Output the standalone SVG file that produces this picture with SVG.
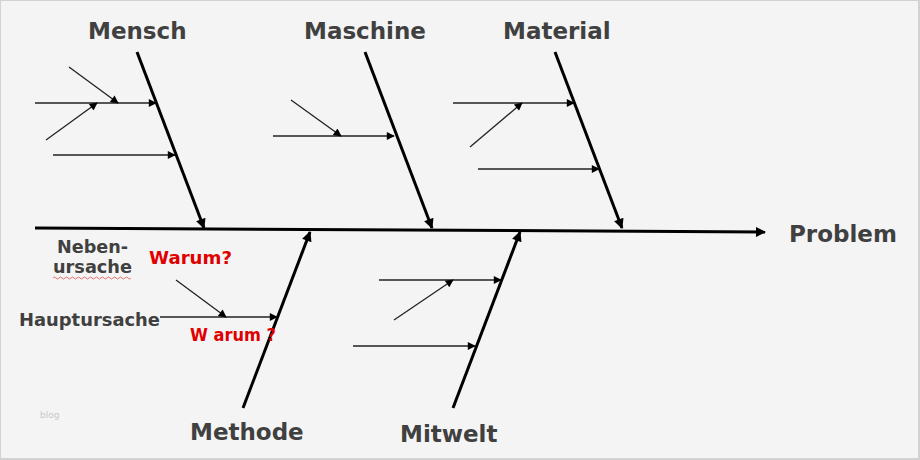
<svg xmlns="http://www.w3.org/2000/svg" width="920" height="460" viewBox="0 0 920 460">
<style>
.bg{fill:#f4f4f4;stroke:#d2d2d2;stroke-width:2}
.t{font-family:"DejaVu Sans",Verdana,sans-serif;font-weight:bold;fill:#404040}
.cat{font-size:23px}
.sm{font-size:18px}
.red{font-family:"DejaVu Sans",Verdana,sans-serif;font-weight:bold;fill:#e00000;font-size:17px}
.bone{stroke:#000;stroke-width:3;fill:none;marker-end:url(#big)}
.spine{stroke:#000;stroke-width:3;fill:none;marker-end:url(#big)}
.sub{stroke:#222;stroke-width:1.3;fill:none;marker-end:url(#small)}
</style>
<defs>
<marker id="big" viewBox="0 0 10 10" refX="9" refY="5" markerWidth="12" markerHeight="10" markerUnits="userSpaceOnUse" orient="auto">
<path d="M0,0 L10,5 L0,10 z" fill="#000"/>
</marker>
<marker id="small" viewBox="0 0 10 10" refX="9" refY="5" markerWidth="10" markerHeight="8" markerUnits="userSpaceOnUse" orient="auto">
<path d="M0,0 L10,5 L0,10 z" fill="#000"/>
</marker>
</defs>
<rect class="bg" x="0" y="0" width="919" height="459"/>
<g id="connectors">
<line class="spine" x1="35" y1="228" x2="765" y2="232"/>
<line class="bone" x1="137" y1="52" x2="204" y2="228"/>
<line class="bone" x1="365" y1="52" x2="432" y2="228"/>
<line class="bone" x1="555" y1="52" x2="622" y2="228"/>
<line class="bone" x1="243" y1="408" x2="310" y2="232"/>
<line class="bone" x1="453" y1="408" x2="520" y2="232"/>
<line class="sub" x1="35" y1="103" x2="156" y2="103"/>
<line class="sub" x1="69" y1="67" x2="118" y2="103"/>
<line class="sub" x1="46" y1="140" x2="97" y2="103"/>
<line class="sub" x1="53" y1="155" x2="175" y2="155"/>
<line class="sub" x1="273" y1="136" x2="394" y2="136"/>
<line class="sub" x1="291" y1="100" x2="341" y2="136"/>
<line class="sub" x1="453" y1="103" x2="574" y2="103"/>
<line class="sub" x1="470" y1="147" x2="522" y2="103"/>
<line class="sub" x1="478" y1="169" x2="599" y2="169"/>
<line class="sub" x1="160" y1="317" x2="277" y2="317"/>
<line class="sub" x1="176" y1="280" x2="226" y2="317"/>
<line class="sub" x1="379" y1="280" x2="501" y2="280"/>
<line class="sub" x1="394" y1="320" x2="453" y2="280"/>
<line class="sub" x1="353" y1="346" x2="475" y2="346"/>
</g>
<g id="mensch"><text class="t cat" x="88" y="39">Mensch</text></g>
<g id="maschine"><text class="t cat" x="304" y="39">Maschine</text></g>
<g id="material"><text class="t cat" x="503" y="39">Material</text></g>
<g id="problem"><text class="t cat" x="789" y="242">Problem</text></g>
<g id="methode"><text class="t cat" x="190" y="440">Methode</text></g>
<g id="mitwelt"><text class="t cat" x="400" y="442">Mitwelt</text></g>
<g id="nebenursache">
<text class="t sm" x="57" y="253" textLength="71" lengthAdjust="spacingAndGlyphs">Neben-</text>
<text class="t sm" x="53" y="273" textLength="79" lengthAdjust="spacingAndGlyphs">ursache</text>
<path d="M53,278 q1.5,-2 3,0 t3,0 t3,0 t3,0 t3,0 t3,0 t3,0 t3,0 t3,0 t3,0 t3,0 t3,0 t3,0 t3,0 t3,0 t3,0 t3,0 t3,0 t3,0 t3,0 t3,0 t3,0 t3,0 t3,0 t3,0 t3,0" fill="none" stroke="#e05050" stroke-width="0.8"/>
</g>
<g id="hauptursache"><text class="t sm" x="19" y="326" textLength="141" lengthAdjust="spacingAndGlyphs">Hauptursache</text></g>
<g id="warum1"><text class="red" x="149" y="264" textLength="83" lengthAdjust="spacingAndGlyphs">Warum?</text></g>
<g id="warum2"><text class="red" x="190" y="341" textLength="86" lengthAdjust="spacingAndGlyphs">W arum ?</text></g>
<text x="40" y="418" font-family="DejaVu Sans, sans-serif" font-size="9" fill="#c8c8c8">blog</text>
</svg>
